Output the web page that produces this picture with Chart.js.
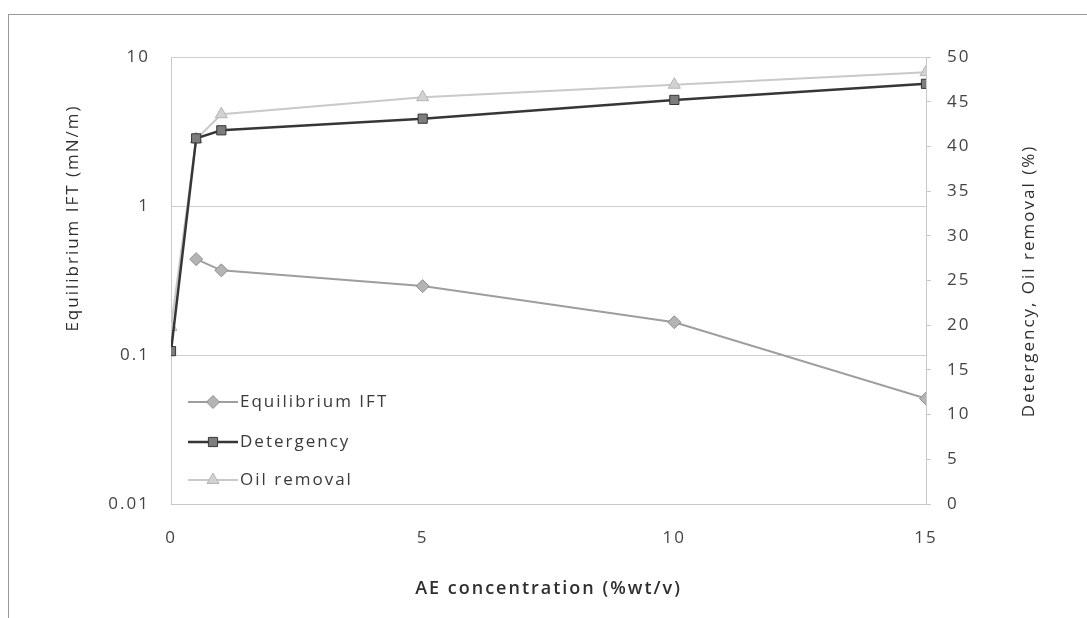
<!DOCTYPE html>
<html>
<head>
<meta charset="utf-8">
<script src="https://cdn.jsdelivr.net/npm/chart.js@4.4.1/dist/chart.umd.min.js"></script>
<style>
  html, body { margin: 0; padding: 0; background: #fff; }
  #wrap { position: relative; width: 1087px; height: 618px; }
  #frame { position: absolute; left: 8px; top: 14px; right: 0; bottom: 0;
           border-left: 1px solid #9a9a9a; border-top: 1px solid #9a9a9a; pointer-events: none; }
</style>
</head>
<body>
<div id="wrap">
  <canvas id="chart" width="1087" height="618"></canvas>
  <div id="frame"></div>
</div>
<script>
// AE concentration (%wt/v)
const concentration = [0, 0.5, 1, 5, 10, 15];
// Equilibrium IFT (mN/m), no reading at 0
const iftValues = [null, 0.44, 0.37, 0.29, 0.166, 0.051];
// Detergency and oil removal (%)
const detergency = [17.1, 40.9, 41.8, 43.1, 45.2, 47.0];
const oilRemoval = [19.8, 40.8, 43.6, 45.5, 46.9, 48.3];

const leftTicks = [0.01, 0.1, 1, 10];
const leftTitle = 'Equilibrium IFT (mN/m)';
const rightTitle = 'Detergency, Oil removal (%)';

const FONT = 'Open Sans';
const SIZE = 17;
const SPACING = '2px';

const points = ys => concentration.map((x, i) => ({ x: x, y: ys[i] }));

// wide letter spacing for all canvas text
const spacing = {
  id: 'spacing',
  beforeInit(chart) { chart.ctx.letterSpacing = SPACING; },
  beforeLayout(chart) { chart.ctx.letterSpacing = SPACING; },
  beforeDraw(chart) { chart.ctx.letterSpacing = SPACING; }
};

// both y titles read bottom to top
const sideTitles = {
  id: 'sideTitles',
  afterDraw(chart) {
    const ctx = chart.ctx;
    const draw = (text, x, y) => {
      ctx.save();
      ctx.translate(x, y);
      ctx.rotate(-Math.PI / 2);
      ctx.fillStyle = '#2e2e2e';
      ctx.font = SIZE + 'px "' + FONT + '"';
      ctx.textAlign = 'center';
      ctx.textBaseline = 'middle';
      ctx.fillText(text, 0, 0);
      ctx.restore();
    };
    draw(leftTitle, 73, 218);
    draw(rightTitle, 1029, 281);
  }
};

// legend drawn inside the plot, lower left
const insideLegend = {
  id: 'insideLegend',
  afterDatasetsDraw(chart) {
    const ctx = chart.ctx;
    const x0 = chart.chartArea.left + 17;
    const rows = [402, 442, 480];
    chart.data.datasets.forEach((ds, i) => {
      const y = rows[i];
      ctx.save();
      ctx.strokeStyle = ds.borderColor;
      ctx.lineWidth = ds.borderWidth;
      ctx.beginPath();
      ctx.moveTo(x0, y);
      ctx.lineTo(x0 + 50, y);
      ctx.stroke();
      ctx.fillStyle = ds.pointBackgroundColor;
      ctx.strokeStyle = ds.pointBorderColor;
      ctx.lineWidth = ds.pointBorderWidth;
      Chart.helpers.drawPoint(ctx, { pointStyle: ds.pointStyle, radius: ds.pointRadius, borderWidth: ds.pointBorderWidth, rotation: 0 }, x0 + 25, y);
      ctx.fillStyle = '#3a3a3a';
      ctx.font = SIZE + 'px "' + FONT + '"';
      ctx.textBaseline = 'middle';
      ctx.fillText(ds.label, x0 + 52, y);
      ctx.restore();
    });
  }
};

new Chart(document.getElementById('chart'), {
  type: 'line',
  data: {
    datasets: [{
      label: 'Equilibrium IFT',
      data: points(iftValues),
      yAxisID: 'y',
      borderColor: '#9e9e9e',
      borderWidth: 2,
      pointStyle: 'rectRot',
      pointRadius: 6.5,
      pointBackgroundColor: '#b4b4b4',
      pointBorderColor: '#8e8e8e',
      pointBorderWidth: 1
    }, {
      label: 'Detergency',
      data: points(detergency),
      yAxisID: 'y1',
      borderColor: '#363636',
      borderWidth: 2.5,
      pointStyle: 'rect',
      pointRadius: 6.5,
      pointBackgroundColor: '#7d7d7d',
      pointBorderColor: '#363636',
      pointBorderWidth: 1
    }, {
      label: 'Oil removal',
      data: points(oilRemoval),
      yAxisID: 'y1',
      borderColor: '#c9c9c9',
      borderWidth: 2,
      pointStyle: 'triangle',
      pointRadius: 7,
      pointBackgroundColor: '#d2d2d2',
      pointBorderColor: '#b5b5b5',
      pointBorderWidth: 1
    }]
  },
  options: {
    responsive: false,
    animation: false,
    layout: { padding: { top: 57, left: 0, right: 0, bottom: 0 } },
    plugins: { legend: { display: false }, tooltip: { enabled: false } },
    scales: {
      x: {
        type: 'linear',
        min: 0, max: 15,
        ticks: { stepSize: 5, color: '#444', font: { family: FONT, size: SIZE }, padding: 24 },
        grid: { display: false, drawTicks: false },
        border: { color: '#c8c8c8' },
        title: { display: true, text: 'AE concentration (%wt/v)', color: '#2e2e2e',
                 font: { family: FONT, size: 18, weight: '600' }, padding: { bottom: 18 } },
        afterFit(scale) { scale.height = 114; }
      },
      y: {
        type: 'logarithmic',
        position: 'left',
        min: 0.01, max: 10,
        afterBuildTicks(scale) { scale.ticks = leftTicks.map(v => ({ value: v, major: true })); },
        ticks: { color: '#444', font: { family: FONT, size: SIZE }, padding: 21,
                 callback: v => String(v) },
        grid: { color: '#cfcfcf', lineWidth: 1, drawTicks: false },
        border: { color: '#c8c8c8' },
        afterFit(scale) { scale.width = 171; }
      },
      y1: {
        type: 'linear',
        position: 'right',
        min: 0, max: 50,
        ticks: { stepSize: 5, color: '#444', font: { family: FONT, size: SIZE }, padding: 16 },
        grid: { drawOnChartArea: false, drawTicks: true, tickLength: 5, color: '#c8c8c8' },
        border: { color: '#c8c8c8' },
        afterFit(scale) { scale.width = 161; }
      }
    }
  },
  plugins: [spacing, sideTitles, insideLegend]
});
</script>
</body>
</html>
